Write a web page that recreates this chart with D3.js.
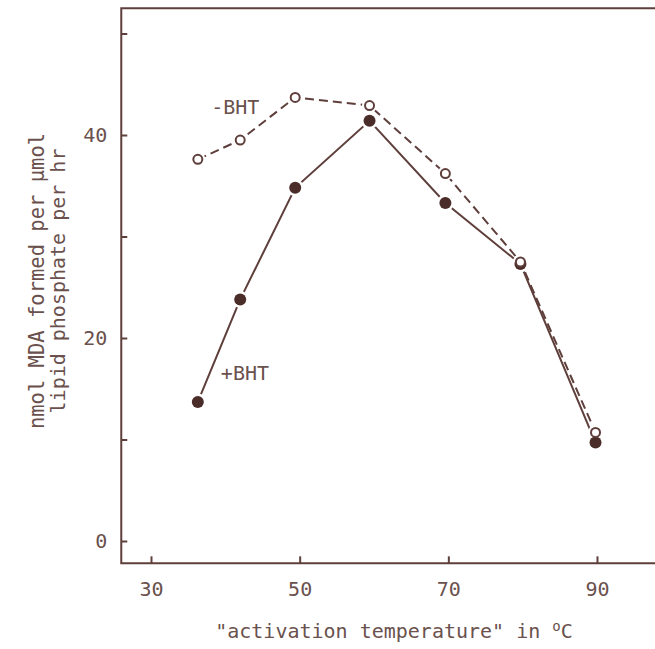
<!DOCTYPE html>
<html>
<head>
<meta charset="utf-8">
<script src="https://cdn.jsdelivr.net/npm/d3@7"></script>
<style>
  body { margin: 0; background: #fff; }
  text { font-family: "DejaVu Sans Mono", monospace; fill: #6a514d; }
</style>
</head>
<body>
<svg id="chart" width="655" height="649"></svg>
<script>
// activation temperature (oC)
var temps = [36.3, 42, 49.4, 59.4, 69.6, 79.7, 89.8]
// nmol MDA formed per umol lipid phosphate per hr
var minusBHT = [37.6, 39.5, 43.7, 42.9, 36.2, 27.5, 10.7]
var plusBHT = [13.7, 23.8, 34.8, 41.4, 33.3, 27.3, 9.7]

var xTicks = [30, 50, 70, 90]
var yTicks = [0, 10, 20, 30, 40, 50]
var yLabels = [0, 20, 40]

var ink = '#5e3f3b'

var svg = d3.select('#chart')

// scales fitted to the printed tick positions
var x = d3.scaleLinear().domain([30, 90]).range([151, 597])
var y = d3.scaleLinear().domain([0, 40]).range([541, 135])

var xMin = 26, xMax = 98.2, yMin = -2.2, yMax = 52.5

//
// frame
//
svg.append('path')
  .attr('d', 'M' + x(xMax) + ',' + y(yMax) + 'H' + x(xMin) + 'V' + y(yMin) + 'H' + x(xMax))
  .attr('fill', 'none')
  .attr('stroke', ink)
  .attr('stroke-width', 2)

//
// axes (ticks point inward)
//
var yAxis = d3.axisLeft(y)
  .tickValues(yTicks)
  .tickSize(-6)
  .tickPadding(14)
  .tickFormat(function (d) { return yLabels.indexOf(d) >= 0 ? d : '' })

var gy = svg.append('g').attr('transform', 'translate(' + x(xMin) + ',0)').call(yAxis)

var xAxis = d3.axisBottom(x)
  .tickValues(xTicks)
  .tickSize(-7)
  .tickPadding(18)

var gx = svg.append('g').attr('transform', 'translate(0,' + y(yMin) + ')').call(xAxis)

;[gy, gx].forEach(function (g) {
  g.select('.domain').remove()
  g.selectAll('.tick line').attr('stroke', ink).attr('stroke-width', 2)
  g.selectAll('.tick text')
    .attr('fill', '#6a514d')
    .style('font-family', '"DejaVu Sans Mono", monospace')
    .style('font-size', '20px')
})

//
// lines
//
var line = d3.line()
  .x(function (d) { return x(d[0]) })
  .y(function (d) { return y(d[1]) })

var minusPts = temps.map(function (t, i) { return [t, minusBHT[i]] })
var plusPts = temps.map(function (t, i) { return [t, plusBHT[i]] })

svg.append('path')
  .datum(plusPts)
  .attr('d', line)
  .attr('fill', 'none')
  .attr('stroke', ink)
  .attr('stroke-width', 2)

svg.append('path')
  .datum(minusPts)
  .attr('d', line)
  .attr('fill', 'none')
  .attr('stroke', ink)
  .attr('stroke-width', 2)
  .attr('stroke-dasharray', '9,5')

// white halos so the lines stop short of the markers
function halo(pts, r) {
  svg.append('g').selectAll('circle')
    .data(pts)
    .join('circle')
    .attr('cx', function (d) { return x(d[0]) })
    .attr('cy', function (d) { return y(d[1]) })
    .attr('r', r)
    .attr('fill', '#fff')
}
halo(plusPts, 8.5)
halo(minusPts, 7.5)

svg.append('g').selectAll('circle')
  .data(plusPts)
  .join('circle')
  .attr('cx', function (d) { return x(d[0]) })
  .attr('cy', function (d) { return y(d[1]) })
  .attr('r', 6)
  .attr('fill', '#4a2c29')

svg.append('g').selectAll('circle')
  .data(minusPts)
  .join('circle')
  .attr('cx', function (d) { return x(d[0]) })
  .attr('cy', function (d) { return y(d[1]) })
  .attr('r', 4.5)
  .attr('fill', '#fff')
  .attr('stroke', ink)
  .attr('stroke-width', 2)

//
// series labels
//
svg.append('text')
  .attr('x', x(38.1)).attr('y', y(42.1))
  .style('font-size', '20px')
  .text('-BHT')

svg.append('text')
  .attr('x', x(39.4)).attr('y', y(15.9))
  .style('font-size', '20px')
  .text('+BHT')

//
// axis titles
//
var xt = svg.append('text')
  .attr('x', 394).attr('y', 638)
  .attr('text-anchor', 'middle')
  .style('font-size', '20px')
xt.append('tspan').text('"activation temperature" in ')
xt.append('tspan').attr('dy', -7).style('font-size', '14px').text('o')
xt.append('tspan').attr('dy', 7).text('C')

var yt = svg.append('g').attr('transform', 'translate(0,281) rotate(-90)')
yt.append('text')
  .attr('x', 0).attr('y', 44)
  .attr('text-anchor', 'middle')
  .style('font-size', '20.5px')
  .text('nmol MDA formed per \u00b5mol')
yt.append('text')
  .attr('x', 0).attr('y', 65)
  .attr('text-anchor', 'middle')
  .style('font-size', '20px')
  .text('lipid phosphate per hr')
</script>
</body>
</html>
